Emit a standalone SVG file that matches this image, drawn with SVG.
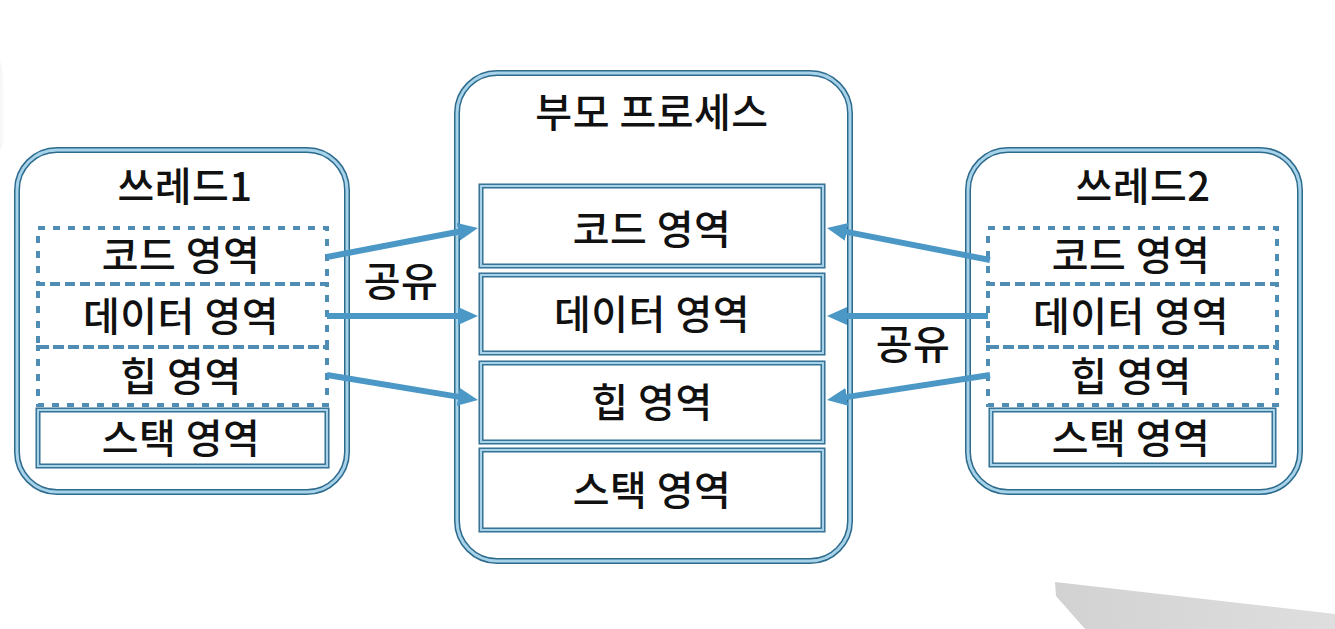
<svg xmlns="http://www.w3.org/2000/svg" width="1335" height="629" viewBox="0 0 1335 629">
  <style>
    .outerDark { fill: #ffffff; stroke: #2d6a8c; stroke-width: 6; }
    .outerLight { fill: none; stroke: #a7d3ea; stroke-width: 3; }
    .boxDark { fill: #ffffff; stroke: #2d6a8c; stroke-width: 5; }
    .boxLight { fill: none; stroke: #a7d3ea; stroke-width: 2.2; }
    .dash { fill: none; stroke: #4f8db4; stroke-width: 4; stroke-dasharray: 7 8; }
    .lbl { font-family: "Noto Sans CJK KR", "Noto Sans", sans-serif; font-size: 40px; font-weight: 500; fill: #111111; text-anchor: middle; letter-spacing: 0.5px; }
    .arrow { stroke: #4b98c7; stroke-width: 6; fill: none; marker-end: url(#ah); }
  </style>
  <defs>
    <marker id="ah" markerUnits="userSpaceOnUse" markerWidth="22" markerHeight="20" refX="4" refY="9" orient="auto">
      <path d="M0,0 L20,9 L0,18 z" fill="#4b98c7"/>
    </marker>
    <linearGradient id="smudge" x1="0" y1="0" x2="1" y2="0">
      <stop offset="0" stop-color="#d2d2d2"/>
      <stop offset="1" stop-color="#dedede"/>
    </linearGradient>
    <linearGradient id="leftsm" x1="0" y1="0" x2="1" y2="0">
      <stop offset="0" stop-color="#f5f5f5"/>
      <stop offset="1" stop-color="#ffffff" stop-opacity="0"/>
    </linearGradient>
  </defs>

  <rect x="0" y="0" width="1335" height="629" fill="#ffffff"/>
  <!-- background artifacts -->
  <path d="M0,60 C6,85 9,115 7,140 L0,150 z" fill="url(#leftsm)"/>
  <path d="M1055,582 L1335,614 L1335,629 L1085,629 L1056,596 z" fill="url(#smudge)"/>

  <!-- Thread 1 -->
  <g id="thread1">
    <rect class="outerDark" x="17" y="150" width="330" height="342" rx="40"/>
    <rect class="outerLight" x="17" y="150" width="330" height="342" rx="40"/>
    <text class="lbl" x="185" y="201">쓰레드1</text>
    <rect class="dash" x="38" y="228" width="289" height="56"/>
    <rect class="dash" x="38" y="284" width="289" height="63"/>
    <rect class="dash" x="38" y="347" width="289" height="58"/>
    <text class="lbl" x="181" y="270">코드 영역</text>
    <text class="lbl" x="181" y="331">데이터 영역</text>
    <text class="lbl" x="181" y="391">힙 영역</text>
    <rect class="boxDark" x="38" y="410" width="289" height="56"/>
    <rect class="boxLight" x="38" y="410" width="289" height="56"/>
    <text class="lbl" x="181" y="453">스택 영역</text>
  </g>

  <!-- Parent process -->
  <g id="process">
    <rect class="outerDark" x="457" y="73" width="393" height="488" rx="40"/>
    <rect class="outerLight" x="457" y="73" width="393" height="488" rx="40"/>
    <text class="lbl" x="652" y="127">부모 프로세스</text>
    <rect class="boxDark" x="481" y="186" width="342" height="80"/>
    <rect class="boxLight" x="481" y="186" width="342" height="80"/>
    <text class="lbl" x="652" y="244">코드 영역</text>
    <rect class="boxDark" x="481" y="275" width="342" height="78"/>
    <rect class="boxLight" x="481" y="275" width="342" height="78"/>
    <text class="lbl" x="652" y="329">데이터 영역</text>
    <rect class="boxDark" x="481" y="363" width="342" height="79"/>
    <rect class="boxLight" x="481" y="363" width="342" height="79"/>
    <text class="lbl" x="652" y="417">힙 영역</text>
    <rect class="boxDark" x="481" y="450" width="342" height="80"/>
    <rect class="boxLight" x="481" y="450" width="342" height="80"/>
    <text class="lbl" x="652" y="505">스택 영역</text>
  </g>

  <!-- Thread 2 -->
  <g id="thread2">
    <rect class="outerDark" x="968" y="150" width="332" height="342" rx="40"/>
    <rect class="outerLight" x="968" y="150" width="332" height="342" rx="40"/>
    <text class="lbl" x="1143" y="201">쓰레드2</text>
    <rect class="dash" x="988" y="228" width="289" height="56"/>
    <rect class="dash" x="988" y="284" width="289" height="63"/>
    <rect class="dash" x="988" y="347" width="289" height="58"/>
    <text class="lbl" x="1131" y="270">코드 영역</text>
    <text class="lbl" x="1131" y="331">데이터 영역</text>
    <text class="lbl" x="1131" y="391">힙 영역</text>
    <rect class="boxDark" x="991" y="410" width="283" height="55"/>
    <rect class="boxLight" x="991" y="410" width="283" height="55"/>
    <text class="lbl" x="1131" y="453">스택 영역</text>
  </g>

  <!-- Connectors -->
  <g id="connectors">
    <line class="arrow" x1="327" y1="257" x2="462.3" y2="231"/>
    <line class="arrow" x1="327" y1="316" x2="462" y2="316"/>
    <line class="arrow" x1="327" y1="375" x2="462.2" y2="397.4"/>
    <line class="arrow" x1="990" y1="260" x2="842.7" y2="231.1"/>
    <line class="arrow" x1="988" y1="316" x2="843" y2="316"/>
    <line class="arrow" x1="990" y1="375" x2="842.8" y2="397.6"/>
  </g>

  <g id="labels">
    <text class="lbl" x="401" y="296">공유</text>
    <text class="lbl" x="913" y="359">공유</text>
  </g>
</svg>
